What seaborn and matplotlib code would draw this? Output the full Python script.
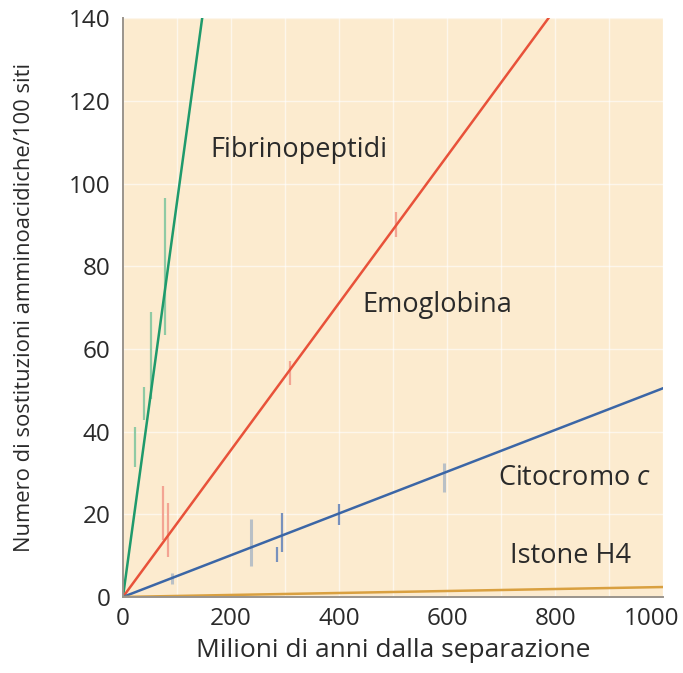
import numpy as np
import pandas as pd
import seaborn as sns
import matplotlib.pyplot as plt
import matplotlib.transforms as mtrans
from matplotlib.ticker import MultipleLocator

# rette di regressione (milioni di anni, sostituzioni/100 siti)
fib_x = [0, 150]
fib_y = [0, 143.2]
emo_x = [0, 800]
emo_y = [0, 142.2]
cit_x = [0, 1000]
cit_y = [0, 50.5]
ist_x = [0, 1000]
ist_y = [0, 2.4]

# barre d'errore (x, y min, y max)
fib_err_x = [22, 39, 52, 78]
fib_err_lo = [31.5, 42.8, 48.0, 63.3]
fib_err_hi = [41.0, 50.8, 68.9, 96.5]

emo_err_x = [74, 83, 310, 506]
emo_err_lo = [13.8, 9.7, 51.3, 87.0]
emo_err_hi = [26.8, 22.7, 57.0, 93.0]

cit_err_x = [286, 295, 399]
cit_err_lo = [8.5, 10.9, 17.4]
cit_err_hi = [12.0, 20.3, 22.5]

grey_err_x = [91, 237, 594]
grey_err_lo = [3.1, 7.5, 25.4]
grey_err_hi = [5.8, 18.9, 32.4]

colori = {
    'fib': '#1f9a6c',
    'emo': '#e8523a',
    'cit': '#3b66a6',
    'ist': '#d9a040',
}

sns.set_style("white")
plt.rcParams['font.family'] = ['Open Sans', 'DejaVu Sans']
plt.rcParams['mathtext.fontset'] = 'custom'
plt.rcParams['mathtext.it'] = 'Open Sans:italic'

fig = plt.figure(figsize=(6.83, 6.73), dpi=100)
ax = fig.add_axes([0.180, 0.113, 0.791, 0.860])
ax.set_facecolor('#fcebcf')

# griglia bianca
ax.set_axisbelow(True)
ax.grid(True, which='both', color='white', lw=1.0, alpha=0.6)

# barre d'errore
ax.vlines(fib_err_x, fib_err_lo, fib_err_hi, color='#8fcaa4', lw=1.6)
ax.vlines(emo_err_x, emo_err_lo, emo_err_hi, color='#f3a493', lw=1.6)
ax.vlines(cit_err_x, cit_err_lo, cit_err_hi, color='#7891bd', lw=1.6)
ax.vlines(grey_err_x, grey_err_lo, grey_err_hi, color='#b9c0c6', lw=2.2)

for xs, ys, k in [(fib_x, fib_y, 'fib'), (emo_x, emo_y, 'emo'),
                  (cit_x, cit_y, 'cit'), (ist_x, ist_y, 'ist')]:
    sns.lineplot(x=xs, y=ys, color=colori[k], lw=1.8, ax=ax)

ax.set_xlim(0, 1000)
ax.set_ylim(0, 140)
ax.xaxis.set_major_locator(MultipleLocator(200))
ax.xaxis.set_minor_locator(MultipleLocator(100))
ax.yaxis.set_major_locator(MultipleLocator(20))

for s in ['top', 'right']:
    ax.spines[s].set_visible(False)
for s in ['left', 'bottom']:
    ax.spines[s].set_color('#9a948c')
    ax.spines[s].set_linewidth(1.4)

ax.tick_params(axis='y', direction='in', length=11, width=1.2, color='#6e6a66',
               labelsize=17.5, labelcolor='#2a2a2a', pad=9)
ax.tick_params(axis='x', which='both', direction='in', length=7, width=1.2,
               color='#6e6a66', labelsize=17.5, labelcolor='#2a2a2a', pad=7)

# "1000" spostato a sinistra per restare nella figura
fig.canvas.draw()
for lab in ax.get_xticklabels():
    if lab.get_text() == '1000':
        lab.set_transform(lab.get_transform()
                          + mtrans.ScaledTranslation(-0.12, 0, fig.dpi_scale_trans))

ax.set_xlabel("Milioni di anni dalla separazione", fontsize=19, color='#2a2a2a', labelpad=5)
ax.set_ylabel("Numero di sostituzioni amminoacidiche/100 siti", fontsize=15.8,
              color='#2a2a2a', labelpad=24)

# etichette delle proteine
ax.text(325, 108, "Fibrinopeptidi", fontsize=19.5, color='#2a2a2a', ha='center', va='center')
ax.text(582, 70.6, "Emoglobina", fontsize=19.5, color='#2a2a2a', ha='center', va='center')
ax.text(837, 28.8, "Citocromo $c$", fontsize=19.5, color='#2a2a2a', ha='center', va='center')
ax.text(829, 9.9, "Istone H4", fontsize=19.5, color='#2a2a2a', ha='center', va='center')

fig.savefig("out.png", dpi=100)
